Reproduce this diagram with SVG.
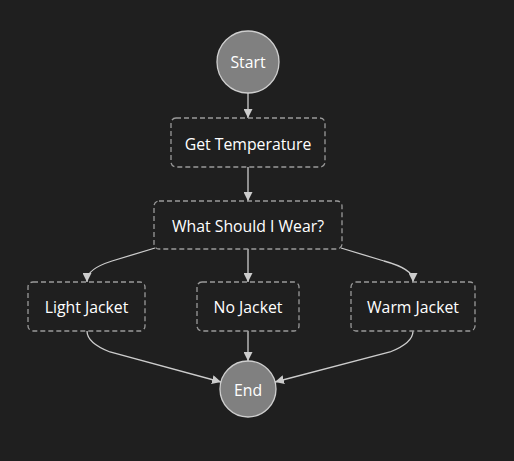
<svg xmlns="http://www.w3.org/2000/svg" width="514" height="461" viewBox="0 0 514 461">
<defs>
<style>
.bg{fill:#1f1f1f}
.box{fill:#1f1f1f;stroke:#9a9a9a;stroke-width:1.3;stroke-dasharray:5 3}
.circ{fill:#808080;stroke:#cfcfcf;stroke-width:1.3}
.lbl{fill:#ffffff;font-family:"Open Sans","Noto Sans","DejaVu Sans",sans-serif;font-size:15.8px;text-anchor:middle;dominant-baseline:central}
.edge{fill:none;stroke:#cccccc;stroke-width:1.3}
</style>
<marker id="arr" viewBox="0 0 10 10" refX="10" refY="5" markerWidth="9" markerHeight="9" markerUnits="userSpaceOnUse" orient="auto">
<path d="M0,0 L10,5 L0,10 z" fill="#cccccc"/>
</marker>
</defs>
<rect class="bg" x="0" y="0" width="514" height="461"/>
<g id="edges">
<path class="edge" d="M248,93 L248,118" marker-end="url(#arr)"/>
<path class="edge" d="M248,167 L248,201" marker-end="url(#arr)"/>
<path class="edge" d="M155,248 L112,261 Q87,269 87,280 L87,282" marker-end="url(#arr)"/>
<path class="edge" d="M248,249 L248,282" marker-end="url(#arr)"/>
<path class="edge" d="M341,248 L384,261 Q413,269 413,280 L413,282" marker-end="url(#arr)"/>
<path class="edge" d="M87,331 Q87,343 110,352 L221,382" marker-end="url(#arr)"/>
<path class="edge" d="M248,331 L248,361" marker-end="url(#arr)"/>
<path class="edge" d="M413,331 Q413,343 390,352 L275,382" marker-end="url(#arr)"/>
</g>
<g id="start"><circle class="circ" cx="248" cy="62" r="31"/><text class="lbl" x="248" y="62">Start</text></g>
<g id="get-temperature"><rect class="box" x="171" y="118" width="154" height="49" rx="5"/><text class="lbl" x="248" y="144">Get Temperature</text></g>
<g id="what-should-i-wear"><rect class="box" x="154" y="201" width="188" height="48" rx="5"/><text class="lbl" x="248" y="226">What Should I Wear?</text></g>
<g id="light-jacket"><rect class="box" x="28" y="282" width="117" height="49" rx="5"/><text class="lbl" x="86.5" y="307">Light Jacket</text></g>
<g id="no-jacket"><rect class="box" x="197" y="282" width="102" height="49" rx="5"/><text class="lbl" x="248" y="307">No Jacket</text></g>
<g id="warm-jacket"><rect class="box" x="351" y="282" width="124" height="49" rx="5"/><text class="lbl" x="413" y="307">Warm Jacket</text></g>
<g id="end"><circle class="circ" cx="248" cy="389" r="28"/><text class="lbl" x="248" y="390">End</text></g>
</svg>
